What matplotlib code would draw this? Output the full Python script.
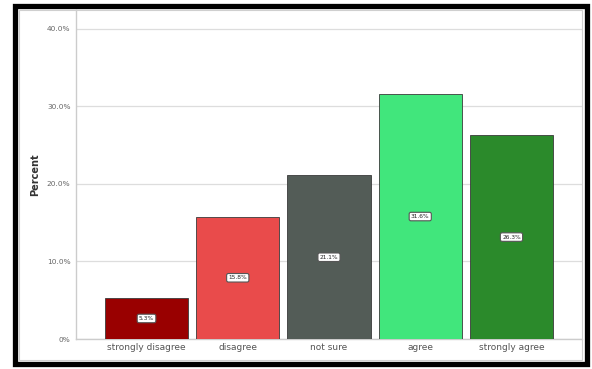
import numpy as np
import matplotlib.pyplot as plt
from matplotlib.patches import Rectangle

# Response categories and their share of respondents
categories = ['strongly disagree', 'disagree', 'not sure', 'agree', 'strongly agree']
percent = [5.3, 15.8, 21.1, 31.6, 26.3]
bar_colors = ['#990000', '#e94b4b', '#535c57', '#41e67c', '#2b8a2b']
yticks = [0, 10, 20, 30, 40]
ytick_labels = ['0%', '10.0%', '20.0%', '30.0%', '40.0%']

fig = plt.figure(figsize=(5.92, 3.69), dpi=100)
fig.patch.set_facecolor('white')
ax = fig.add_axes([76 / 592, 30 / 369, 506 / 592, 329 / 369])

x = np.arange(len(categories))
ax.bar(x, percent, width=0.91, color=bar_colors, edgecolor='#3a3a3a', linewidth=0.6, zorder=3)

# value labels in small white boxes at mid-height of each bar
for xi, v in zip(x, percent):
    ax.text(xi, v / 2, f'{v:.1f}%', ha='center', va='center', fontsize=4.2, color='#222222',
            zorder=4, bbox=dict(boxstyle='round,pad=0.3', fc='white', ec='#555555', lw=0.8))

ax.set_xlim(-0.773, 4.773)
ax.set_ylim(0, 42.45)
ax.set_xticks(x)
ax.set_xticklabels(categories, fontsize=6.5, color='#555555')
ax.set_yticks(yticks)
ax.set_yticklabels(ytick_labels, fontsize=5.3, color='#666666')
ax.tick_params(axis='both', length=0, pad=4)
ax.tick_params(axis='x', pad=3)
ax.grid(axis='y', color='#dddddd', linewidth=0.9, zorder=0)
ax.set_ylabel('Percent', fontsize=7, fontweight='bold', color='#333333', labelpad=5)

for side in ['top', 'right']:
    ax.spines[side].set_visible(False)
for side in ['left', 'bottom']:
    ax.spines[side].set_color('#cccccc')
    ax.spines[side].set_linewidth(1.0)

# thin inner frame and thick black outer border
fig.patches.append(Rectangle((19 / 592, 1 - 360 / 369), 563 / 592, 350 / 369,
                             transform=fig.transFigure, fill=False, ec='#cfcfcf', lw=0.8))
fig.patches.append(Rectangle((15 / 592, 1 - 364 / 369), 572 / 592, 358 / 369,
                             transform=fig.transFigure, fill=False, ec='black', lw=3.8))

fig.savefig('out.png', dpi=100)
